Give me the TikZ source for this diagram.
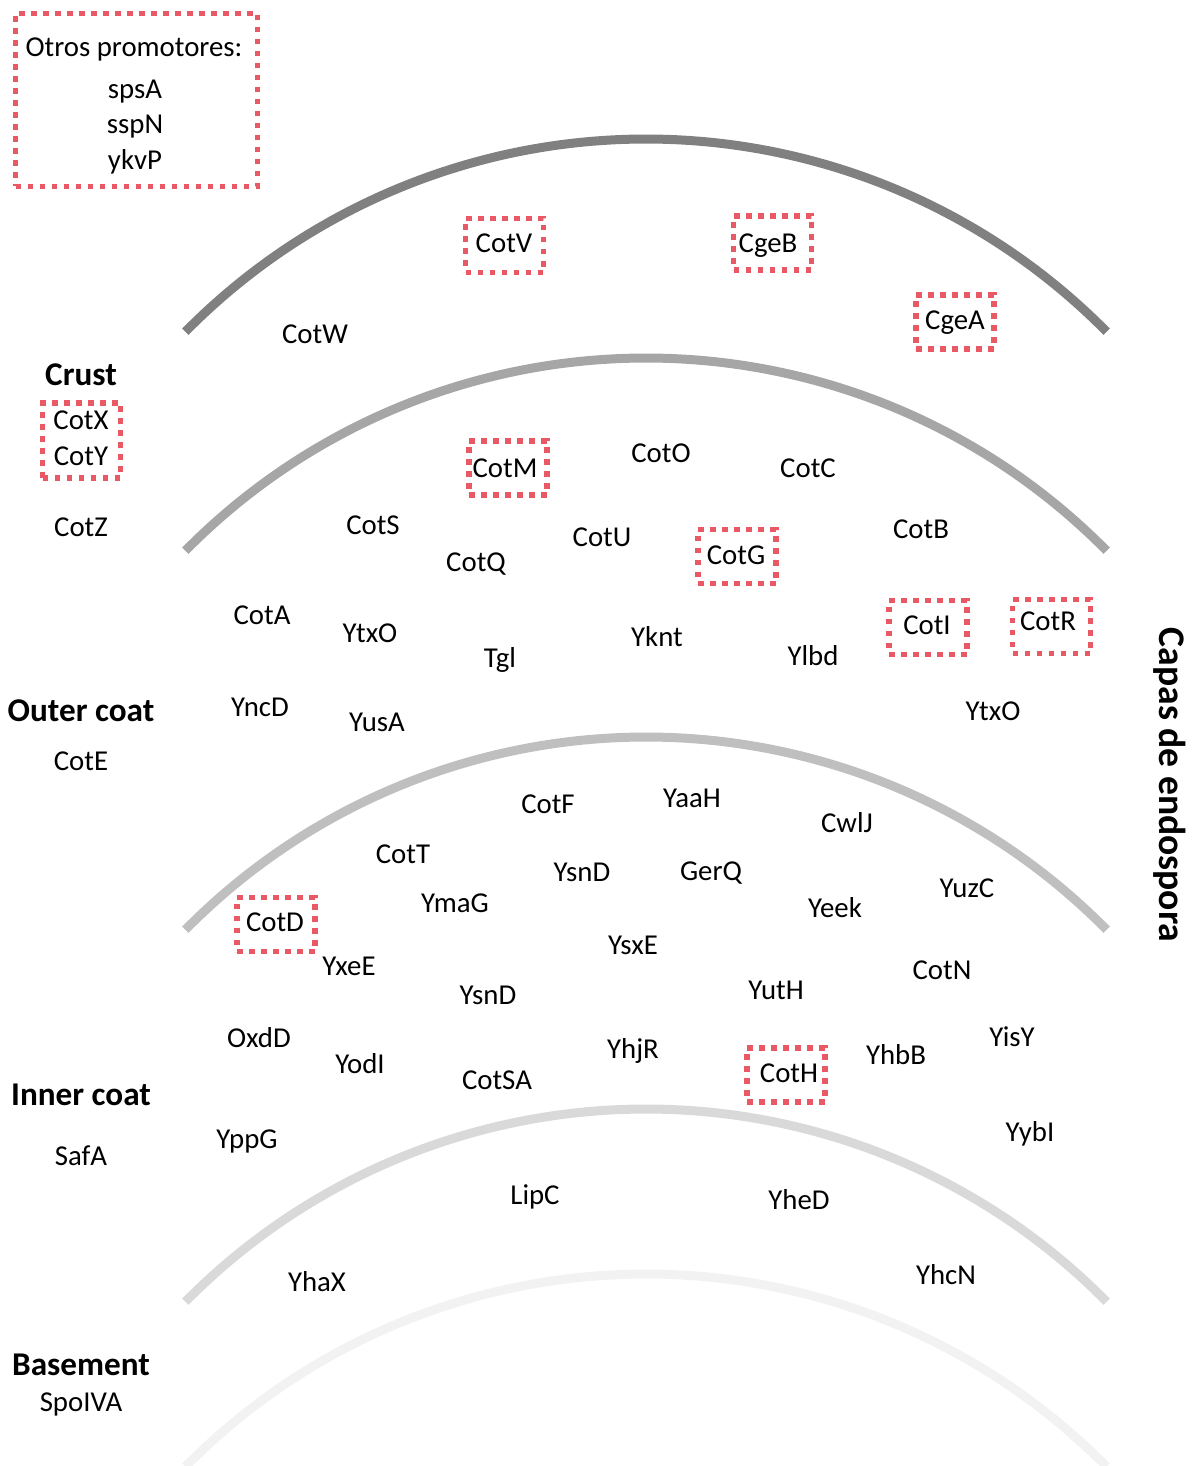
\documentclass[tikz,border=0pt]{standalone}
\usepackage{fontspec}
\setmainfont{Carlito}
\definecolor{promred}{RGB}{233,88,101}
\definecolor{layerA}{RGB}{128,128,128}
\definecolor{layerB}{RGB}{166,166,166}
\definecolor{layerC}{RGB}{191,191,191}
\definecolor{layerD}{RGB}{217,217,217}
\definecolor{layerE}{RGB}{242,242,242}
\begin{document}
\begin{tikzpicture}[x=0.5pt,y=-0.5pt,
  prot/.style={font=\fontsize{14.4}{17}\selectfont, inner sep=0pt, text height=0.64em, text depth=0pt, yshift=-1.5pt},
  layer/.style={font=\bfseries\fontsize{16.6}{19}\selectfont, inner sep=0pt, text height=0.64em, text depth=0pt, yshift=-1.5pt},
  pbox/.style={draw=promred, line width=2.8pt, dash pattern=on 2.8pt off 3.2pt, inner sep=0pt,
               minimum width=39pt, minimum height=27pt},
  shell/.style={line width=4.5pt}]
\useasboundingbox (0,0) rectangle (1198,1466);
\clip (0,0) rectangle (1198,1466);

% concentric spore layers
\draw[shell, layerA] (646,786)  ++(224.6:647) arc[start angle=224.6, end angle=315.4, radius=647];
\draw[shell, layerB] (646,1005) ++(224.6:647) arc[start angle=224.6, end angle=315.4, radius=647];
\draw[shell, layerC] (646,1384) ++(224.6:647) arc[start angle=224.6, end angle=315.4, radius=647];
\draw[shell, layerD] (646,1756) ++(224.6:647) arc[start angle=224.6, end angle=315.4, radius=647];
\draw[shell, layerE] (646,1921) ++(224.6:647) arc[start angle=224.6, end angle=315.4, radius=647];

% other promoters
\node[pbox, minimum width=121pt, minimum height=86.5pt] (otrosbox) at (136.5,100) {};
\node[prot] (otros) at (134,47) {Otros promotores:};
\node[prot] (spsA) at (135,89) {spsA};
\node[prot] (sspN) at (135,124) {sspN};
\node[prot] (ykvP) at (135,160) {ykvP};

% layer names
\node[layer] (crust) at (81,376) {Crust};
\node[layer] (outer) at (81,712) {Outer coat};
\node[layer] (inner) at (81,1096) {Inner coat};
\node[layer] (base) at (81,1366) {Basement};
\node[font=\bfseries\fontsize{18.8}{22}\selectfont, inner sep=0pt, rotate=-90] (title) at (1170,785) {Capas de endospora};

% left column proteins
\node[pbox, minimum height=37.5pt] (xybox) at (81.5,440.5) {};
\node[prot] (cotX) at (81,420) {CotX};
\node[prot] (cotY) at (81,456) {CotY};
\node[prot] (cotZ) at (81,527) {CotZ};
\node[prot] (cotE) at (81,761) {CotE};
\node[prot] (safA) at (81,1156) {SafA};
\node[prot] (spoIVA) at (81,1402) {SpoIVA};

% crust
\node[pbox] (cotVbox) at (504.5,245.5) {};
\node[prot] (cotV) at (504,243) {CotV};
\node[pbox] (cgeBbox) at (772.5,243) {};
\node[prot] (cgeB) at (768,243) {CgeB};
\node[pbox] (cgeAbox) at (955,322) {};
\node[prot] (cgeA) at (955,320) {CgeA};
\node[prot] (cotW) at (315,334) {CotW};

% outer coat
\node[pbox] (cotMbox) at (508,468) {};
\node[prot] (cotM) at (505,468) {CotM};
\node[prot] (cotO) at (661,453) {CotO};
\node[prot] (cotC) at (808,468) {CotC};
\node[prot] (cotS) at (373,525) {CotS};
\node[prot] (cotQ) at (476,562) {CotQ};
\node[prot] (cotU) at (602,537) {CotU};
\node[pbox] (cotGbox) at (737,556.5) {};
\node[prot] (cotG) at (736,555) {CotG};
\node[prot] (cotB) at (921,529) {CotB};
\node[prot] (cotA) at (262,615) {CotA};
\node[prot] (ytxO) at (370,633) {YtxO};
\node[prot] (tgl) at (500,658) {Tgl};
\node[prot] (yknt) at (657,637) {Yknt};
\node[prot] (ylbd) at (813,656) {Ylbd};
\node[pbox] (cotIbox) at (928,627.5) {};
\node[prot] (cotI) at (927,625) {CotI};
\node[pbox] (cotRbox) at (1051.5,626.5) {};
\node[prot] (cotR) at (1048,621) {CotR};
\node[prot] (yncD) at (260,707) {YncD};
\node[prot] (yusA) at (377,722) {YusA};
\node[prot] (ytxOb) at (993,711) {YtxO};

% inner coat
\node[prot] (cotF) at (548,804) {CotF};
\node[prot] (yaaH) at (692,798) {YaaH};
\node[prot] (cwlJ) at (847,823) {CwlJ};
\node[prot] (cotT) at (403,854) {CotT};
\node[prot] (ysnD) at (582,872) {YsnD};
\node[prot] (gerQ) at (711,871) {GerQ};
\node[prot] (yeek) at (835,908) {Yeek};
\node[prot] (yuzC) at (967,888) {YuzC};
\node[prot] (ymaG) at (455,903) {YmaG};
\node[pbox] (cotDbox) at (276,924.5) {};
\node[prot] (cotD) at (275,922) {CotD};
\node[prot] (yxeE) at (349,966) {YxeE};
\node[prot] (ysxE) at (633,945) {YsxE};
\node[prot] (cotN) at (942,970) {CotN};
\node[prot] (ysnDb) at (488,995) {YsnD};
\node[prot] (yutH) at (776,990) {YutH};
\node[prot] (oxdD) at (259,1038) {OxdD};
\node[prot] (yodI) at (360,1064) {YodI};
\node[prot] (cotSA) at (497,1080) {CotSA};
\node[prot] (yhjR) at (633,1049) {YhjR};
\node[pbox] (cotHbox) at (786,1075) {};
\node[prot] (cotH) at (789,1073) {CotH};
\node[prot] (yhbB) at (896,1055) {YhbB};
\node[prot] (yisY) at (1012,1037) {YisY};
\node[prot] (yppG) at (247,1139) {YppG};
\node[prot] (yybI) at (1030,1132) {YybI};

% basement region
\node[prot] (lipC) at (535,1195) {LipC};
\node[prot] (yheD) at (799,1200) {YheD};
\node[prot] (yhaX) at (317,1282) {YhaX};
\node[prot] (yhcN) at (946,1275) {YhcN};
\end{tikzpicture}
\end{document}
